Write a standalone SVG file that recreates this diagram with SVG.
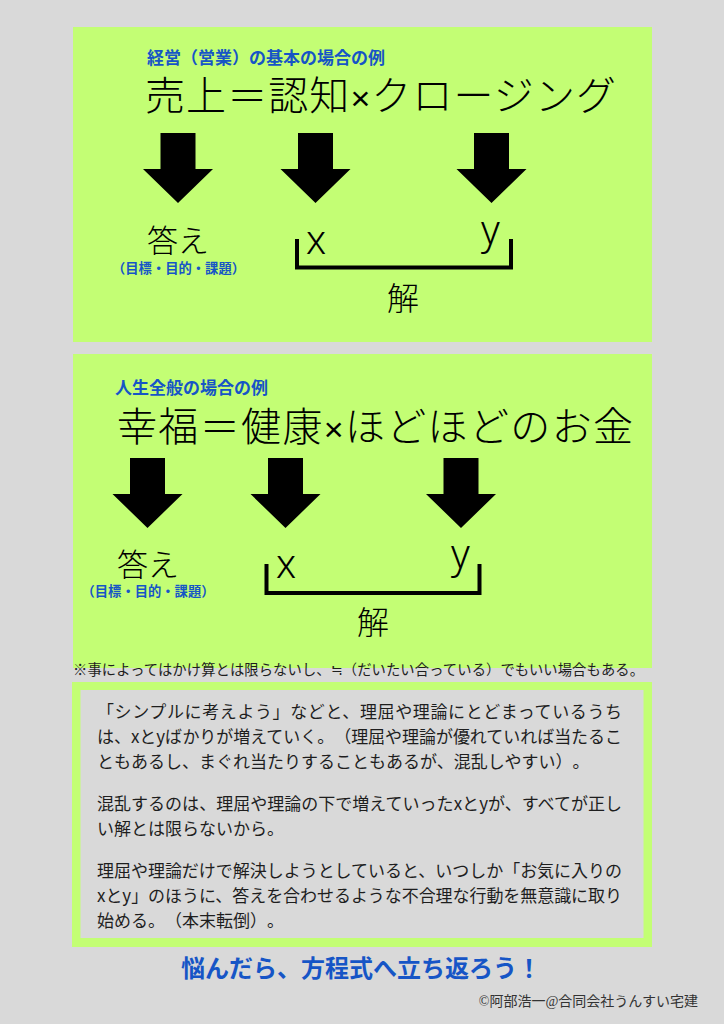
<svg xmlns="http://www.w3.org/2000/svg" width="724" height="1024" viewBox="0 0 724 1024">
  <style>
    .panel { fill: #c3fe74; }
    .jp { font-family: "Noto Sans CJK JP", "Noto Sans", sans-serif; text-spacing-trim: space-all; }
    .title { font-size: 17px; font-weight: bold; fill: #1655c6; }
    .main { font-size: 40px; font-weight: 300; fill: #000; }
    .times { font-family: "Liberation Sans", sans-serif; font-size: 34px; font-weight: normal; }
    .ans { font-size: 31px; font-weight: 300; fill: #000; }
    .sub { font-size: 13.3px; font-weight: bold; fill: #1655c6; }
    .var { font-family: "Noto Sans", "DejaVu Sans", sans-serif; font-size: 40px; font-weight: 300; fill: #000; }
    .kai { font-size: 32px; font-weight: 300; fill: #000; }
    .body { font-size: 17px; fill: #1e1e1e; }
    .note { font-size: 14.3px; fill: #1e1e1e; }
    .bracket { fill: none; stroke: #000; stroke-width: 4; stroke-linejoin: miter; stroke-linecap: square; }
  </style>
  <defs>
    <path id="arrow" d="M-17.5 0 H17.5 V36 H35 L0 70 L-35 36 H-17.5 Z" fill="#000"/>
  </defs>

  <rect x="0" y="0" width="724" height="1024" fill="#d9d9d9"/>

  <!-- Panel 1 -->
  <g id="panel1">
    <rect class="panel" x="73" y="27" width="579" height="315"/>
    <text class="jp title" x="147" y="64">経営（営業）の基本の場合の例</text>
    <text class="jp main" x="145" y="110" textLength="471" lengthAdjust="spacing">売上＝認知<tspan class="times">×</tspan>クロージング</text>
  </g>
  <g id="answer1">
    <text class="jp ans" x="178" y="252" text-anchor="middle">答え</text>
    <text class="jp sub" x="178.5" y="273" text-anchor="middle">（目標・目的・課題）</text>
  </g>
  <g id="x1"><text class="var" x="306" y="254">x</text></g>
  <g id="y1"><text class="var" x="481" y="244">y</text></g>
  <g id="solution1"><text class="jp kai" x="403" y="310" text-anchor="middle">解</text></g>

  <!-- Panel 2 -->
  <g id="panel2">
    <rect class="panel" x="73" y="354" width="579" height="314"/>
    <text class="jp title" x="115" y="394">人生全般の場合の例</text>
    <text class="jp main" x="117" y="441" textLength="516" lengthAdjust="spacing">幸福＝健康<tspan class="times">×</tspan>ほどほどのお金</text>
  </g>
  <g id="answer2">
    <text class="jp ans" x="148" y="576" text-anchor="middle">答え</text>
    <text class="jp sub" x="148" y="596" text-anchor="middle">（目標・目的・課題）</text>
  </g>
  <g id="x2"><text class="var" x="276" y="578">x</text></g>
  <g id="y2"><text class="var" x="451" y="568">y</text></g>
  <g id="solution2"><text class="jp kai" x="373" y="634" text-anchor="middle">解</text></g>

  <!-- Connectors -->
  <g id="connectors">
    <use href="#arrow" x="178" y="133"/>
    <use href="#arrow" x="315.5" y="133"/>
    <use href="#arrow" x="491.5" y="133"/>
    <path class="bracket" d="M297 241 V267.5 H511 V241"/>
    <use href="#arrow" x="147.5" y="458"/>
    <use href="#arrow" x="285.5" y="458"/>
    <use href="#arrow" x="461" y="458"/>
    <path class="bracket" d="M266.5 566 V593 H479.5 V566"/>
  </g>

  <g id="note">
    <text class="jp note" x="73" y="675" textLength="571" lengthAdjust="spacing">※事によってはかけ算とは限らないし、≒（だいたい合っている）でもいい場合もある。</text>
  </g>

  <!-- Panel 3 -->
  <g id="panel3">
    <rect x="72" y="682" width="580" height="265" fill="#c3fe74"/>
    <rect x="80.5" y="690" width="563" height="248" fill="#d9d9d9"/>
    <text class="jp body" x="97" y="718" textLength="525" lengthAdjust="spacing">「シンプルに考えよう」などと、理屈や理論にとどまっているうち</text>
    <text class="jp body" x="97" y="743" textLength="525" lengthAdjust="spacing">は、xとyばかりが増えていく。（理屈や理論が優れていれば当たるこ</text>
    <text class="jp body" x="97" y="768">ともあるし、まぐれ当たりすることもあるが、混乱しやすい）。</text>
    <text class="jp body" x="97" y="810" textLength="525" lengthAdjust="spacing">混乱するのは、理屈や理論の下で増えていったxとyが、すべてが正し</text>
    <text class="jp body" x="97" y="835">い解とは限らないから。</text>
    <text class="jp body" x="97" y="877" textLength="525" lengthAdjust="spacing">理屈や理論だけで解決しようとしていると、いつしか「お気に入りの</text>
    <text class="jp body" x="97" y="902" textLength="525" lengthAdjust="spacing">xとy」のほうに、答えを合わせるような不合理な行動を無意識に取り</text>
    <text class="jp body" x="97" y="927">始める。（本末転倒）。</text>
  </g>

  <g id="footer">
    <text class="jp" x="181" y="977" font-size="24" font-weight="bold" fill="#1655c6">悩んだら、方程式へ立ち返ろう！</text>
    <text x="698" y="1006" text-anchor="end" font-size="14" fill="#333" font-family="Liberation Serif, Noto Sans CJK JP, serif">©阿部浩一@合同会社うんすい宅建</text>
  </g>
</svg>
